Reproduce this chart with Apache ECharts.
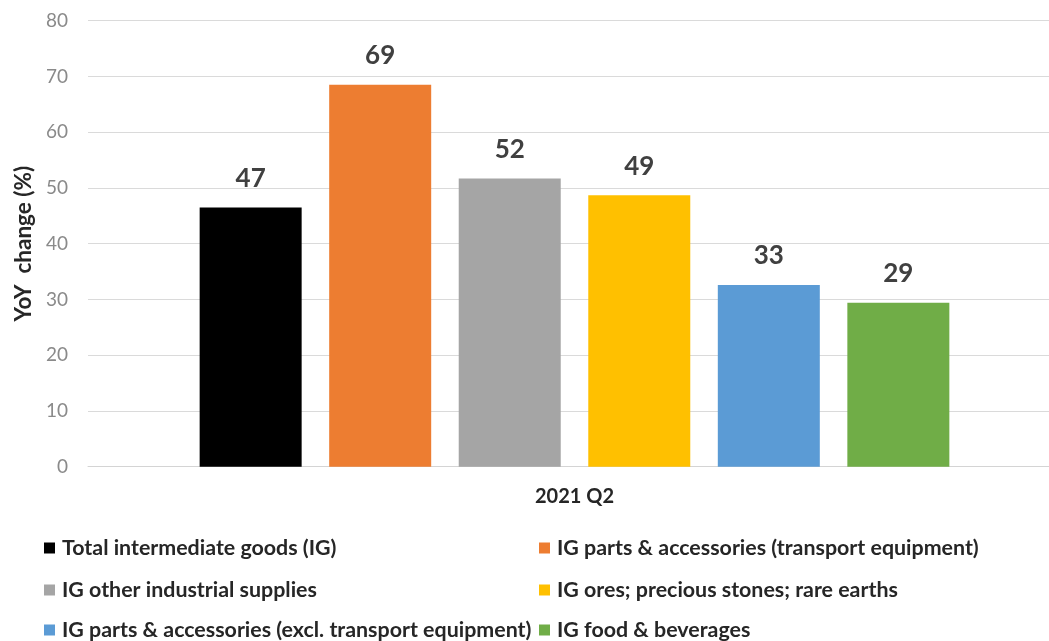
<!DOCTYPE html>
<html>
<head>
<meta charset="utf-8">
<script src="https://cdn.jsdelivr.net/npm/echarts@6/dist/echarts.min.js"></script>
<style>
html,body{margin:0;padding:0;background:#fff;}
#chart{width:1049px;height:641px;}
</style>
</head>
<body>
<div id="chart"></div>
<script>
const categories = ['2021 Q2'];
const seriesNames = [
  'Total intermediate goods (IG)',
  'IG parts & accessories (transport equipment)',
  'IG other industrial supplies',
  'IG ores; precious stones; rare earths',
  'IG parts & accessories (excl. transport equipment)',
  'IG food & beverages'
];
const seriesValues = [46.5, 68.5, 51.7, 48.7, 32.6, 29.4];
const seriesColors = ['#000000', '#ed7d31', '#a5a5a5', '#ffc000', '#5b9bd5', '#70ad47'];
const yTicks = { min: 0, max: 80, interval: 10 };

const FONT = 'Lato, "Open Sans", sans-serif';
const legendPos = [
  { left: 44, top: 537 },
  { left: 539, top: 537 },
  { left: 44, top: 579 },
  { left: 539, top: 579 },
  { left: 44, top: 619 },
  { left: 539, top: 619 }
];

const chart = echarts.init(document.getElementById('chart'), null, { renderer: 'canvas' });
const option = {
  backgroundColor: '#ffffff',
  animation: false,
  textStyle: { fontFamily: FONT },
  grid: { left: 88, width: 973, top: 20.7, bottom: 641 - 466.7, outerBoundsMode: 'none', containLabel: false },
  legend: seriesNames.map((n, i) => ({
    data: [n],
    left: legendPos[i].left,
    top: legendPos[i].top,
    icon: 'rect',
    itemWidth: 11,
    itemHeight: 11,
    itemGap: 0,
    padding: 0,
    selectedMode: false,
    textStyle: { fontFamily: FONT, fontWeight: 'bold', fontSize: 21.4, lineHeight: 22, color: '#262626', padding: [0, 0, 0, 2] }
  })),
  xAxis: {
    type: 'category',
    data: categories,
    axisLine: { show: true, lineStyle: { color: '#d4d4d4', width: 1 } },
    axisTick: { show: false },
    axisLabel: { margin: 20, fontFamily: FONT, fontWeight: 'bold', fontSize: 20, color: '#262626' }
  },
  yAxis: {
    type: 'value',
    min: yTicks.min,
    max: yTicks.max,
    interval: yTicks.interval,
    name: 'YoY  change (%)',
    nameLocation: 'middle',
    nameRotate: 90,
    nameGap: 53,
    nameTextStyle: { fontFamily: FONT, fontWeight: 'bold', fontSize: 22.5, color: '#262626' },
    axisLine: { show: false },
    axisTick: { show: false },
    axisLabel: { margin: 20, fontFamily: FONT, fontSize: 19, color: '#8a8a8a' },
    splitLine: { lineStyle: { color: '#dadada', width: 1 } }
  },
  series: seriesNames.map((n, i) => ({
    name: n,
    type: 'bar',
    barWidth: 102,
    barGap: '27%',
    itemStyle: { color: seriesColors[i] },
    label: {
      show: true,
      position: 'top',
      distance: 16,
      fontFamily: FONT,
      fontWeight: 'bold',
      fontSize: 26,
      color: '#404040',
      formatter: p => Math.round(p.value)
    },
    data: [seriesValues[i]]
  }))
};
chart.setOption(option);
</script>
</body>
</html>
